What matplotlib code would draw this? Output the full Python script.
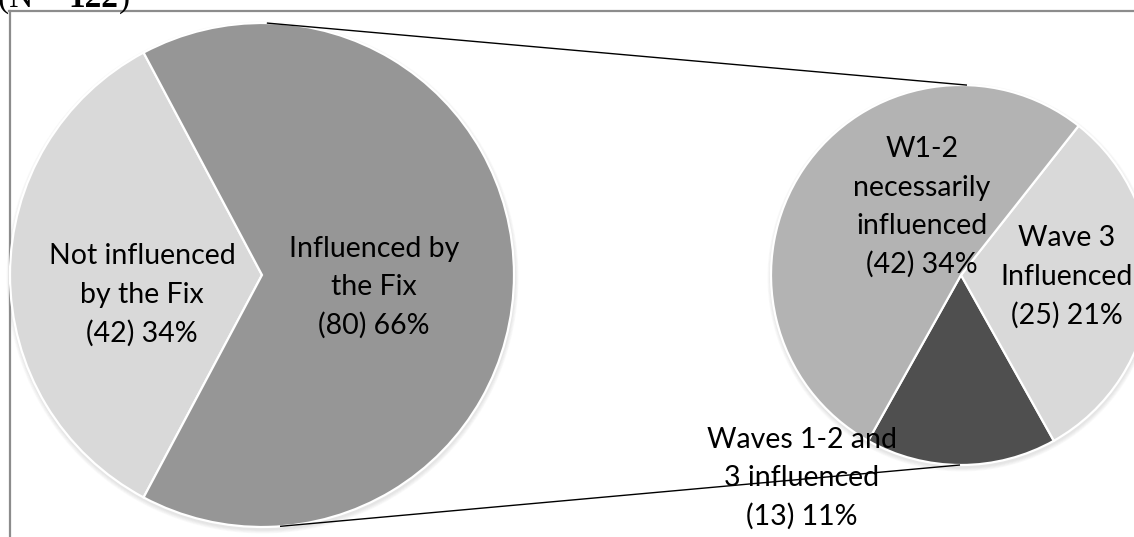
import matplotlib
matplotlib.use("Agg")
import matplotlib.pyplot as plt
from matplotlib.patches import Circle
import numpy as np

# ---- data -------------------------------------------------------------
main_labels = ["Not influenced\nby the Fix", "Influenced by\nthe Fix"]
main_counts = [42, 80]
main_pcts = [34, 66]

sub_labels = ["Waves 1-2 and\n3 influenced", "Wave 3\nInfluenced", "W1-2\nnecessarily\ninfluenced"]
sub_counts = [13, 25, 42]
sub_pcts = [11, 21, 34]

total_n = 122

# ---- style ------------------------------------------------------------
main_colors = ["#d9d9d9", "#969696"]
sub_colors = ["#4f4f4f", "#d9d9d9", "#b3b3b3"]
W, H = 1134, 537
FONT = "Lato"
FS = 20.5

fig = plt.figure(figsize=(W / 100, H / 100), dpi=100)
ax = fig.add_axes([0, 0, 1, 1])


def Y(y):
    return H - y


# frame around the plot area
ax.plot([9.5, 9.5], [Y(11), Y(H + 5)], color="#8c8c8c", lw=1.6, zorder=1)
ax.plot([9, W + 5], [Y(11), Y(11)], color="#8c8c8c", lw=1.6, zorder=1)

big_c = (262, Y(275))
big_r = 252
small_c = (961, Y(275))
small_r = 190


def soft_shadow(center, r):
    for k in range(1, 6):
        ax.add_patch(Circle((center[0] + 0.5, center[1] - 2.5), r + k * 0.8,
                            facecolor="#9a9a9a", edgecolor="none",
                            alpha=0.05, zorder=2))


soft_shadow(big_c, big_r)
soft_shadow(small_c, small_r)

# main pie: the "not influenced" slice is centred on the left
big_start = 180 - main_counts[0] / sum(main_counts) * 360 / 2
ax.pie(main_counts, colors=main_colors, startangle=big_start, counterclock=True,
       center=big_c, radius=big_r, frame=True,
       wedgeprops=dict(edgecolor="white", linewidth=1.6, zorder=3))

# breakdown of the influenced group: smallest slice centred at the bottom
small_start = 270 - sub_counts[0] / sum(sub_counts) * 360 / 2
ax.pie(sub_counts, colors=sub_colors, startangle=small_start, counterclock=True,
       center=small_c, radius=small_r, frame=True,
       wedgeprops=dict(edgecolor="white", linewidth=1.6, zorder=3))

# connector lines between the two pies
def on_circle(c, r, ang):
    a = np.deg2rad(ang)
    return c[0] + r * np.cos(a), c[1] + r * np.sin(a)

for a_big, a_small in [(88.9, 88.2), (-85.9, -90.3)]:
    p1 = on_circle(big_c, big_r, a_big)
    p2 = on_circle(small_c, small_r, a_small)
    ax.plot([p1[0], p2[0]], [p1[1], p2[1]], color="black", lw=1.0,
            solid_capstyle="butt", zorder=5)


def block(text, x, y_mid, spacing=38.5):
    lines = text.split("\n")
    n = len(lines)
    for i, line in enumerate(lines):
        yy = y_mid + (i - (n - 1) / 2) * spacing
        ax.text(x, Y(yy), line, ha="center", va="center", fontsize=FS,
                family=FONT, color="black", zorder=6)


main_pos = [(142, 295), (374, 287)]
for lab, cnt, pct, (x, y) in zip(main_labels, main_counts, main_pcts, main_pos):
    block(f"{lab}\n({cnt}) {pct}%", x, y)

sub_pos = [(802, 478), (1067, 277), (922, 207)]
for lab, cnt, pct, (x, y) in zip(sub_labels, sub_counts, sub_pcts, sub_pos):
    block(f"{lab}\n({cnt}) {pct}%", x, y)

ax.set_xlim(0, W)
ax.set_ylim(0, H)
ax.set_aspect("auto")
ax.set_axis_off()

# partially visible sample-size heading at the very top
renderer = fig.canvas.get_renderer()
x0 = -2
base_y = 1 - 7 / H
parts = [("(N = ", "normal"), (str(total_n), "bold"), (")", "normal")]
for s, wgt in parts:
    t = fig.text(x0 / W, base_y, s, ha="left", va="baseline", fontsize=24,
                 family="Liberation Serif", weight=wgt, color="black")
    bb = t.get_window_extent(renderer=renderer)
    x0 += bb.width

fig.savefig("out.png", dpi=100)
